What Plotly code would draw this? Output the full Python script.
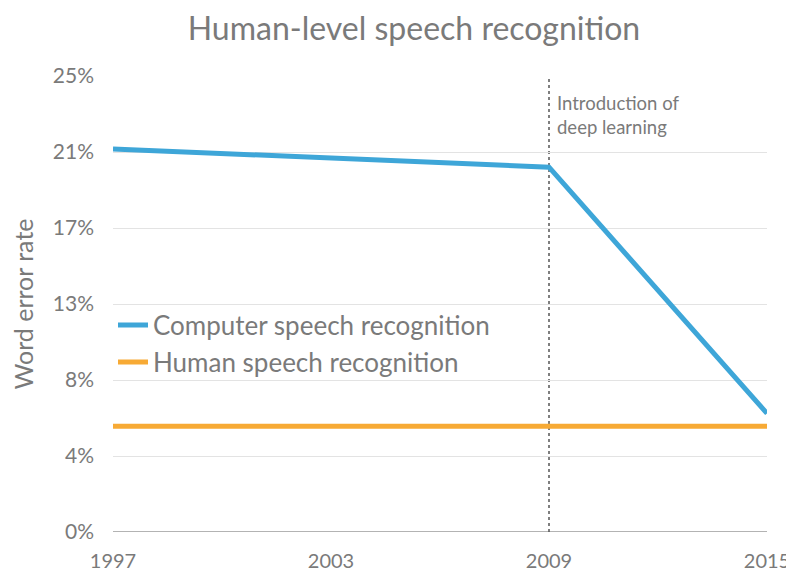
import plotly.graph_objects as go

years = [1997, 2009, 2015]
computer_wer = [21.0, 20.0, 6.5]
human_years = [1997, 2015]
human_wer = [5.8, 5.8]
x_ticks = [1997, 2003, 2009, 2015]
y_tickvals = [0, 25/6, 50/6, 12.5, 100/6, 125/6, 25]
y_ticktext = ["0%", "4%", "8%", "13%", "17%", "21%", "25%"]
dl_year = 2009

FONT = "Lato"
GRAY = "#7a7a7a"

fig = go.Figure()
fig.add_trace(go.Scatter(x=years, y=computer_wer, mode="lines",
                         name="Computer speech recognition",
                         line=dict(color="#3ea6d8", width=5)))
fig.add_trace(go.Scatter(x=human_years, y=human_wer, mode="lines",
                         name="Human speech recognition",
                         line=dict(color="#f7aa35", width=5)))

fig.add_shape(type="line", x0=dl_year, x1=dl_year, y0=0, y1=25, xref="x", yref="y",
              line=dict(color="#555555", width=1.5, dash="dot"), layer="below")
fig.add_annotation(x=dl_year, y=25, xref="x", yref="y", xanchor="left", yanchor="top",
                   xshift=6, yshift=-14, align="left", showarrow=False,
                   text="Introduction of<br>deep learning",
                   font=dict(family=FONT, size=18.5, color=GRAY))

fig.update_layout(
    width=786, height=564,
    margin=dict(l=105, r=27, t=68, b=40),
    plot_bgcolor="white", paper_bgcolor="white",
    title=dict(text="Human-level speech recognition", x=0.5165, xanchor="center",
               y=0.963, yanchor="middle",
               font=dict(family=FONT, size=32, color=GRAY)),
    font=dict(family=FONT, color=GRAY),
    legend=dict(x=0.0, xanchor="left", y=0.505, yanchor="top",
                font=dict(family=FONT, size=26, color=GRAY),
                bgcolor="rgba(0,0,0,0)", tracegroupgap=0, itemwidth=30),
    xaxis=dict(range=[1997, 2015], tickvals=x_ticks, showgrid=False, zeroline=False,
               showline=False, ticks="", ticklabelstandoff=15, automargin=False,
               tickfont=dict(family=FONT, size=20, color=GRAY)),
    yaxis=dict(range=[0, 25], tickvals=y_tickvals, ticktext=y_ticktext,
               showgrid=True, gridcolor="#e3e3e3", gridwidth=1, zeroline=False,
               showline=False, ticks="", ticklabelstandoff=18, automargin=False,
               tickfont=dict(family=FONT, size=21, color=GRAY),
               title=dict(text="Word error rate", standoff=14,
                          font=dict(family=FONT, size=25, color=GRAY))),
    showlegend=True,
)
fig.add_shape(type="line", x0=0, x1=1, y0=0, y1=0, xref="paper", yref="y",
              line=dict(color="#9a9a9a", width=1.5), layer="below")

fig.write_html("out.html")
